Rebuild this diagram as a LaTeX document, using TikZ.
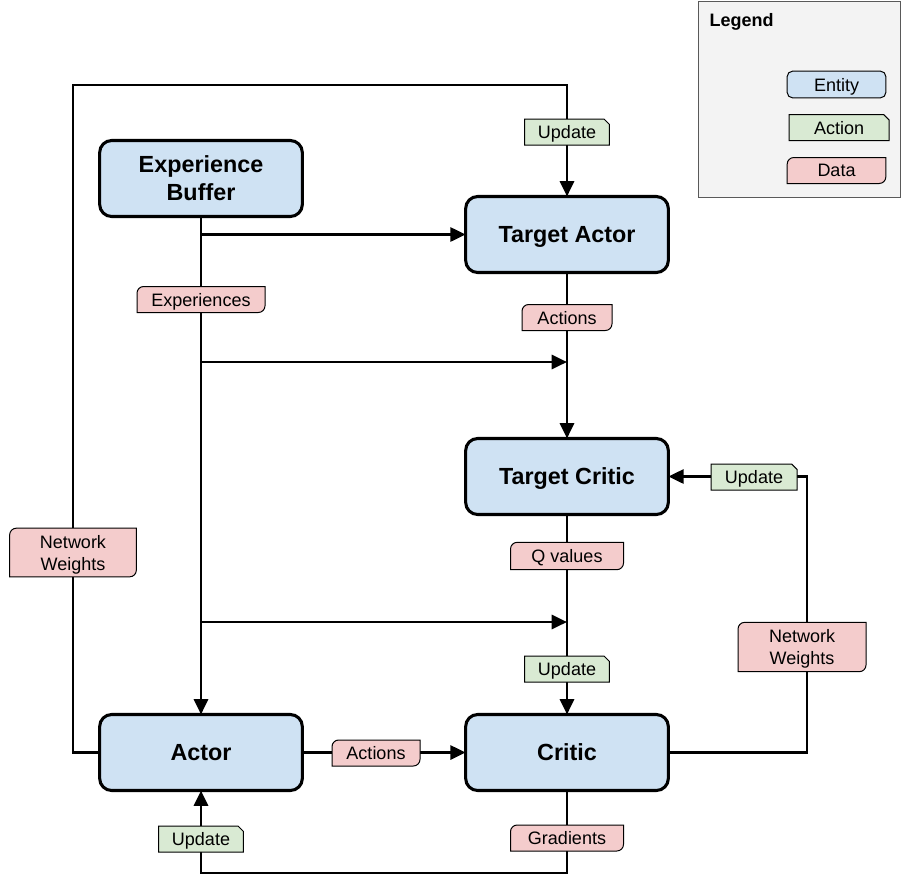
\documentclass[tikz,border=0pt]{standalone}
\usepackage{fontspec}
\setmainfont{Liberation Sans}
\usetikzlibrary{arrows.meta}
\definecolor{entityfill}{HTML}{CFE2F3}
\definecolor{actionfill}{HTML}{D9EAD3}
\definecolor{datafill}{HTML}{F4CCCC}
\definecolor{legendfill}{HTML}{F3F3F3}
\definecolor{legendline}{HTML}{595959}
\pgfdeclarelayer{links}
\pgfdeclarelayer{tags}
\pgfsetlayers{links,tags,main}

% tag with rounded top-left and bottom-right corners (data)
\newcommand\datatag[4][]{%
  \node[tagbox,#1] (#2) at (#3) {#4};
  \begin{pgfonlayer}{tags}
    \draw[tagedge, fill=datafill]
      ([yshift=-5pt]#2.north west) arc[start angle=180, end angle=90, radius=5pt]
      -- (#2.north east) -- ([yshift=5pt]#2.south east)
      arc[start angle=0, end angle=-90, radius=5pt]
      -- (#2.south west) -- cycle;
  \end{pgfonlayer}}
% tag with a clipped top-right corner (action)
\newcommand\actiontag[4][]{%
  \node[tagbox,#1] (#2) at (#3) {#4};
  \begin{pgfonlayer}{tags}
    \draw[tagedge, fill=actionfill]
      (#2.north west) -- ([xshift=-4pt]#2.north east)
      -- ([yshift=-4pt]#2.north east) -- (#2.south east)
      -- (#2.south west) -- cycle;
  \end{pgfonlayer}}

\tikzset{
  entity/.style={draw, line width=2.3pt, rounded corners=9pt, fill=entityfill,
    minimum width=152pt, minimum height=57pt, inner sep=0pt, outer sep=0pt,
    align=center, text depth=0pt, font=\bfseries\fontsize{17.5}{21}\selectfont},
  tagbox/.style={minimum height=19.5pt, inner sep=0pt, outer sep=0pt,
    align=center, text depth=0pt, font=\fontsize{13.5}{16.5}\selectfont},
  tagedge/.style={draw=black, line width=0.75pt},
  link/.style={draw=black, line width=2.2pt},
  arrow/.style={link, -{Triangle[length=11.5pt, width=10.5pt]}},
  legendbox/.style={draw=legendline, fill=legendfill, line width=0.75pt,
    minimum width=152pt, minimum height=147pt, inner sep=0pt, outer sep=0pt},
  keyentity/.style={draw=black, line width=0.75pt, rounded corners=4pt,
    fill=entityfill, minimum width=74pt, minimum height=20pt, inner sep=0pt,
    text depth=0pt, font=\fontsize{13.5}{16.5}\selectfont},
}

\begin{document}
\begin{tikzpicture}[x=0.75pt, y=-0.75pt]
\useasboundingbox (0,0) rectangle (902,893);

% entities
\node[entity] (buffer)  at (201,178.5) {Experience\\Buffer};
\node[entity] (tactor)  at (567,234.5) {Target Actor};
\node[entity] (tcritic) at (567,476.5) {Target Critic};
\node[entity] (actor)   at (201,752.5) {Actor};
\node[entity] (critic)  at (567,752.5) {Critic};

% helper points of the routed connectors
\coordinate (loopTL) at (73,85);
\coordinate (j1) at (567,362);
\coordinate (j2) at (567,622);
\coordinate (rloop) at (807,600);
\coordinate (bloop) at (400,873);

\begin{pgfonlayer}{links}
  % legend panel
  \node[legendbox] (legend) at (799.5,99) {};
  % connectors
  \draw[arrow] (actor.west) -| (loopTL) -| (tactor.north);
  \draw[arrow] (buffer.south) -- (actor.north);
  \draw[arrow] (buffer.south |- tactor.west) -- (tactor.west);
  \draw[arrow] (buffer.south |- j1) -- (j1);
  \draw[arrow] (buffer.south |- j2) -- (j2);
  \draw[arrow] (tactor.south) -- (tcritic.north);
  \draw[arrow] (tcritic.south) -- (critic.north);
  \draw[arrow] (actor.east) -- (critic.west);
  \draw[arrow] (critic.east) -| (rloop) |- (tcritic.east);
  \draw[arrow] (critic.south) |- (bloop) -| (actor.south);
\end{pgfonlayer}

% connector labels
\actiontag[minimum width=63.5pt]{updTA}{567,132}{Update}
\datatag[minimum width=96pt]{exps}{201,299.5}{Experiences}
\datatag[minimum width=67.5pt]{actsT}{567,317.5}{Actions}
\actiontag[minimum width=64.5pt]{updTC}{754,477}{Update}
\datatag[minimum width=84.75pt, minimum height=20.5pt]{qvals}{567,556}{Q values}
\actiontag[minimum width=63.5pt]{updC}{567,669}{Update}
\datatag[minimum width=95pt, minimum height=36.5pt]{nwL}{73,552.5}{Network\\Weights}
\datatag[minimum width=96pt, minimum height=37pt]{nwR}{802,647}{Network\\Weights}
\datatag[minimum width=66pt]{actsA}{376,753}{Actions}
\actiontag[minimum width=63.5pt]{updA}{201,839}{Update}
\datatag[minimum width=84.75pt]{grads}{567,838}{Gradients}

% legend
\node[anchor=west, font=\bfseries\fontsize{13.5}{16}\selectfont] (legendtitle) at (705,22) {Legend};
\node[keyentity] (keyEntity) at (836.5,84.5) {Entity};
\actiontag[minimum width=75pt]{keyAction}{839,127.5}{Action}
\datatag[minimum width=74pt]{keyData}{836.5,170.5}{Data}
\end{tikzpicture}
\end{document}
